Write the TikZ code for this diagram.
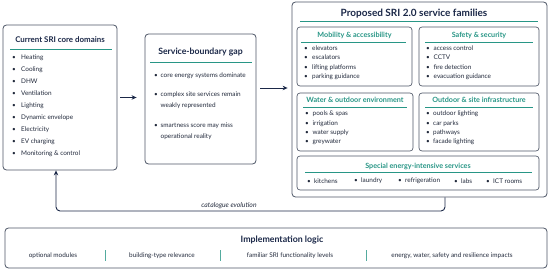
\documentclass[tikz,border=0pt]{standalone}
\usepackage{fontspec}
\setmainfont{Lato}
\usetikzlibrary{arrows.meta,positioning,calc}

\definecolor{navy}{RGB}{27,40,72}
\definecolor{teal}{RGB}{40,150,134}
\definecolor{slate}{RGB}{78,86,102}
\definecolor{ink}{RGB}{34,42,60}

\newcommand{\itm}[1][8pt]{\makebox[#1][l]{\textbullet}}

\begin{document}
\begin{tikzpicture}[
  x=1pt, y=-1pt,
  >=Stealth,
  panel/.style={
    rectangle,
    draw=slate,
    line width=0.8pt,
    rounded corners=3.5pt,
    fill=white,
    inner sep=0pt
  },
  subpanel/.style={
    panel,
    line width=0.65pt,
    rounded corners=3pt
  },
  head/.style={font=\bfseries\fontsize{7.9}{9}\selectfont, text=navy, inner sep=0pt},
  bighead/.style={head, font=\bfseries\fontsize{10}{12}\selectfont},
  subhead/.style={head, font=\bfseries\fontsize{7.2}{9}\selectfont, text=teal},
  items/.style={font=\fontsize{6.4}{12}\selectfont, text=ink, align=left, inner sep=0pt},
  rule/.style={draw=teal, line width=0.8pt},
  sep/.style={draw=teal!80, line width=0.8pt},
  flow/.style={-{Stealth[length=5pt,width=4.5pt]}, draw=navy, line width=0.9pt}
]
\useasboundingbox (0,0) rectangle (550,270);

% current domains
\node[panel, minimum width=114pt, minimum height=145pt] (core) at (60,97.5) {};
\node[head] (coreT) at (60,40) {Current SRI core domains};
\draw[rule] (10,49) -- (112,49);
\node[items, anchor=north west] (coreL) at (12,54.5) {%
  \itm[9pt]Heating\\ \itm[9pt]Cooling\\ \itm[9pt]DHW\\ \itm[9pt]Ventilation\\
  \itm[9pt]Lighting\\ \itm[9pt]Dynamic envelope\\ \itm[9pt]Electricity\\
  \itm[9pt]EV charging\\ \itm[9pt]Monitoring \& control};

% gap
\node[panel, minimum width=111pt, minimum height=130pt] (gap) at (200.5,99) {};
\node[head, font=\bfseries\fontsize{8.7}{10}\selectfont] (gapT) at (200.5,52) {Service-boundary gap};
\draw[rule] (150,62) -- (252,62);
\node[items, anchor=north west, font=\fontsize{6.4}{11}\selectfont] (gapL) at (154,72.5) {%
  \itm[6.5pt]core energy systems dominate\\[8.5pt]
  \itm[6.5pt]complex site services remain\\ \hspace*{6.5pt}weakly represented\\[8.5pt]
  \itm[6.5pt]smartness score may miss\\ \hspace*{6.5pt}operational reality};

% proposed families
\node[panel, minimum width=255pt, minimum height=195pt] (fam) at (419.5,99.5) {};
\node[bighead] (famT) at (414,14) {Proposed SRI 2.0 service families};
\draw[rule] (300,21.5) -- (538,21.5);

\node[subpanel, minimum width=115pt, minimum height=59pt] (mob) at (354.5,56.5) {};
\node[subhead] (mobT) at (354.5,35.5) {Mobility \& accessibility};
\draw[rule] (301,42) -- (406,42);
\node[items, anchor=north west, font=\fontsize{6.4}{9.3}\selectfont] (mobL) at (304,45.5) {%
  \itm[8pt]elevators\\ \itm[8pt]escalators\\ \itm[8pt]lifting platforms\\ \itm[8pt]parking guidance};

\node[subpanel, minimum width=120pt, minimum height=59pt] (saf) at (479,56.5) {};
\node[subhead] (safT) at (479,35.5) {Safety \& security};
\draw[rule] (425,42) -- (533,42);
\node[items, anchor=north west, font=\fontsize{6.4}{9.3}\selectfont] (safL) at (426,45.5) {%
  \itm[7.5pt]access control\\ \itm[7.5pt]CCTV\\ \itm[7.5pt]fire detection\\ \itm[7.5pt]evacuation guidance};

\node[subpanel, minimum width=116pt, minimum height=58pt] (wat) at (355,122) {};
\node[subhead] (watT) at (355,100) {Water \& outdoor environment};
\draw[rule] (303,107) -- (407,107);
\node[items, anchor=north west, font=\fontsize{6.4}{9.1}\selectfont] (watL) at (305,111) {%
  \itm[7.5pt]pools \& spas\\ \itm[7.5pt]irrigation\\ \itm[7.5pt]water supply\\ \itm[7.5pt]greywater};

\node[subpanel, minimum width=120pt, minimum height=58pt] (out) at (479,122) {};
\node[subhead] (outT) at (479,100) {Outdoor \& site infrastructure};
\draw[rule] (425,107) -- (533,107);
\node[items, anchor=north west, font=\fontsize{6.4}{9.1}\selectfont] (outL) at (426,111) {%
  \itm[7pt]outdoor lighting\\ \itm[7pt]car parks\\ \itm[7pt]pathways\\ \itm[7pt]facade lighting};

\node[subpanel, minimum width=242pt, minimum height=34pt] (spe) at (418,173) {};
\node[subhead] (speT) at (418,166) {Special energy-intensive services};
\draw[rule] (305,172.5) -- (532,172.5);
\node[items, anchor=west] (sp1) at (307,181) {\itm[7pt]kitchens};
\node[items, anchor=west] (sp2) at (354,181) {\itm[7pt]laundry};
\node[items, anchor=west] (sp3) at (398,181) {\itm[7pt]refrigeration};
\node[items, anchor=west] (sp4) at (454,181) {\itm[7pt]labs};
\node[items, anchor=west] (sp5) at (486,181) {\itm[7pt]ICT rooms};

% implementation logic
\node[panel, minimum width=542pt, minimum height=40pt] (impl) at (276,248) {};
\node[head, font=\bfseries\fontsize{8.8}{10}\selectfont] (implT) at (282,240) {Implementation logic};
\node[items] (im1) at (53,255.5) {optional modules};
\node[items] (im2) at (162,255.5) {building-type relevance};
\node[items] (im3) at (290,255.5) {familiar SRI functionality levels};
\node[items] (im4) at (452,255.5) {energy, water, safety and resilience impacts};
\draw[sep] (105,250) -- (105,261);
\draw[sep] (220,250) -- (220,261);
\draw[sep] (366,250) -- (366,261);

% connectors
\draw[flow] ([xshift=3pt]core.east) -- ([xshift=-8pt]core.east -| gap.west);
\draw[flow] ([yshift=11pt,xshift=4pt]gap.east) coordinate (g1) -- ([xshift=-4pt]g1 -| fam.west);
\coordinate (fbs) at (fam.south -| 445,0);
\coordinate (fbt) at (56,211);
\draw[flow, rounded corners=4pt] (fbs) |- (fbt) -- (fbt |- core.south);
\node[items, font=\itshape\fontsize{6.8}{8}\selectfont] (fbL) at (229,205.5) {catalogue evolution};

\end{tikzpicture}
\end{document}
